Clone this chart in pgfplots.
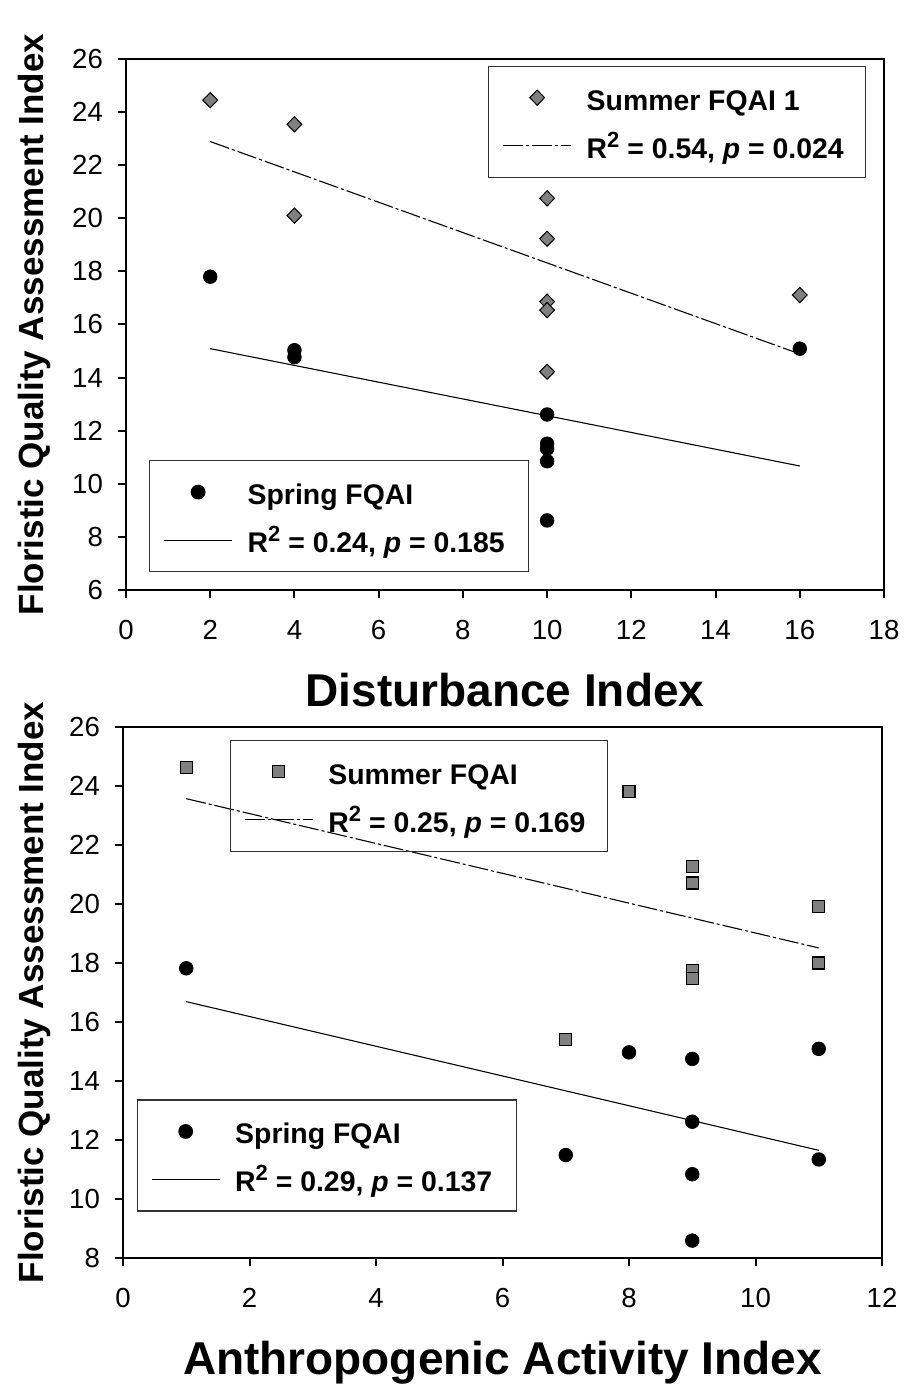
\documentclass[border=0pt]{standalone}
\usepackage{fontspec}
\setmainfont{Liberation Sans}
\usepackage{pgfplots}
\usepackage{pgfplotstable}
\pgfplotsset{compat=1.18}

\definecolor{markgray}{RGB}{128,128,128}
\definecolor{boxgray}{RGB}{50,50,50}

% R squared with a large raised 2
\newcommand{\Rsq}{R\raisebox{5.5pt}{\fontsize{11}{11}\selectfont 2}}

% Spring FQAI against the disturbance index
\pgfplotstableread{
x y
2 17.80
4 15.03
4 14.77
10 12.61
10 11.51
10 11.32
10 10.85
10 8.62
16 15.09
}\springdist
% Summer FQAI against the disturbance index
\pgfplotstableread{
x y
2 24.45
4 23.54
4 20.10
10 20.75
10 19.23
10 16.86
10 16.54
10 14.22
16 17.11
}\summerdist
% Spring FQAI against the anthropogenic activity index
\pgfplotstableread{
x y
1 17.82
7 11.49
8 14.97
9 14.75
9 12.62
9 10.84
9 8.59
11 15.09
11 11.34
}\springanth
% Summer FQAI against the anthropogenic activity index
\pgfplotstableread{
x y
1 24.62
7 15.40
8 23.81
9 21.28
9 20.71
9 17.75
9 17.48
11 19.92
11 18.00
}\summeranth

\pgfplotsset{
  panel/.style={
    scale only axis, anchor=south west,
    axis line style={line width=1pt},
    every tick/.style={line width=1pt, black},
    major tick length=4pt,
    tick align=outside,
    tick pos=left,
    /pgf/number format/assume math mode=true,
    tick label style={font=\fontsize{13.8}{16}\selectfont},
    xticklabel style={yshift=-7.5pt},
    yticklabel style={xshift=-4pt},
    xlabel style={font=\fontsize{23}{27}\selectfont\bfseries,
      at={(axis description cs:0.5,-0.2194)}, anchor=base},
    ylabel style={font=\fontsize{17.5}{21}\selectfont\bfseries, anchor=base},
    clip=false,
    legend image code/.code={%
      \draw[mark repeat=2,mark phase=2,#1]
        plot coordinates {(0pt,0pt) (17pt,0pt) (34pt,0pt)};},
    legend style={draw=boxgray, line width=0.6pt, fill=none,
      anchor=north west,
      font=\fontsize{14.2}{17}\selectfont\bfseries,
      inner xsep=7pt, inner ysep=9.5pt, row sep=11.5pt, column sep=7.5pt,
      nodes={inner sep=0pt, text height=12.5pt, text depth=0pt},
      cells={anchor=west}},
  },
  overlaypanel/.style={panel, hide axis},
  springpts/.style={only marks, mark=*, mark size=3.4pt, black},
  summerdia/.style={only marks, mark=diamond*, mark size=3.8pt,
    mark options={fill=markgray, draw=black, line width=0.5pt, xscale=1.3}},
  summersq/.style={only marks, mark=square*, mark size=3pt,
    mark options={fill=markgray, draw=black, line width=0.6pt}},
  fitsolid/.style={black, line width=0.55pt, mark=none},
  fitdashdot/.style={black, line width=0.55pt, mark=none,
    dash pattern=on 10pt off 1.5pt on 1.5pt off 1.5pt},
}

\begin{document}
\begin{tikzpicture}
\path[use as bounding box] (0pt,0pt) rectangle (452pt,692.5pt);

% ---------- upper panel: disturbance index ----------
\begin{axis}[panel, at={(63pt,397.5pt)}, width=379pt, height=265.5pt,
  xmin=0, xmax=18, ymin=6, ymax=26,
  xtick={0,2,...,18}, ytick={6,8,...,26},
  xlabel={Disturbance Index},
  ylabel={Floristic Quality Assessment Index},
  ylabel style={at={(axis description cs:-0.1095,0.5)}},
  legend style={at={(axis description cs:0.0303,0.2448)}},
]
\addplot[springpts] table {\springdist};
\addlegendentry{Spring FQAI}
\addplot[fitsolid] coordinates {(2,15.09) (16,10.67)};
\addlegendentry{\Rsq{} = 0.24, \textit{p} = 0.185\hspace*{5pt}}
\end{axis}

\begin{axis}[overlaypanel, at={(63pt,397.5pt)}, width=379pt, height=265.5pt,
  xmin=0, xmax=18, ymin=6, ymax=26,
  legend style={at={(axis description cs:0.4776,0.9876)}},
]
\addplot[summerdia] table {\summerdist};
\addlegendentry{Summer FQAI 1}
\addplot[fitdashdot] coordinates {(2,22.89) (16,14.89)};
\addlegendentry{\Rsq{} = 0.54, \textit{p} = 0.024\hspace*{4pt}}
\end{axis}

% ---------- lower panel: anthropogenic activity index ----------
\begin{axis}[panel, at={(61.5pt,63.5pt)}, width=379.5pt, height=265.5pt,
  xmin=0, xmax=12, ymin=8, ymax=26,
  xtick={0,2,...,12}, ytick={8,10,...,26},
  xlabel={Anthropogenic Activity Index},
  ylabel={Floristic Quality Assessment Index},
  ylabel style={at={(axis description cs:-0.1054,0.5)}},
  legend style={at={(axis description cs:0.0178,0.2987)}},
]
\addplot[springpts] table {\springanth};
\addlegendentry{Spring FQAI}
\addplot[fitsolid] coordinates {(1,16.69) (11,11.65)};
\addlegendentry{\Rsq{} = 0.29, \textit{p} = 0.137\hspace*{5pt}}
\end{axis}

\begin{axis}[overlaypanel, at={(61.5pt,63.5pt)}, width=379.5pt, height=265.5pt,
  xmin=0, xmax=12, ymin=8, ymax=26,
  legend style={at={(axis description cs:0.1406,0.9763)}},
]
\addplot[summersq] table {\summeranth};
\addlegendentry{Summer FQAI}
\addplot[fitdashdot] coordinates {(1,23.57) (11,18.51)};
\addlegendentry{\Rsq{} = 0.25, \textit{p} = 0.169\hspace*{4pt}}
\end{axis}
\end{tikzpicture}
\end{document}
